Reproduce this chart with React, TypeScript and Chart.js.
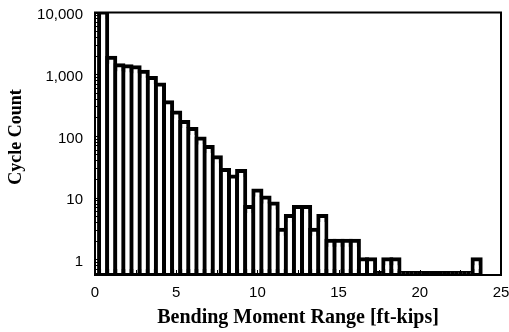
import React, { useEffect, useRef } from 'react';
import { Chart, registerables } from 'chart.js';

Chart.register(...registerables);

// Bin centres of the histogram [ft-kips]
const BIN_CENTERS = [
  0.5, 1.0, 1.5, 2.0, 2.5, 3.0, 3.5, 4.0, 4.5, 5.0,
  5.5, 6.0, 6.5, 7.0, 7.5, 8.0, 8.5, 9.0, 9.5, 10.0,
  10.5, 11.0, 11.5, 12.0, 12.5, 13.0, 13.5, 14.0, 14.5, 15.0,
  15.5, 16.0, 16.5, 17.0, 17.5, 18.0, 18.5, 19.0, 19.5, 20.0,
  20.5, 21.0, 21.5, 22.0, 22.5, 23.0, 23.5,
];

// Cycle counts per bin
const CYCLE_COUNTS = [
  10000, 1850, 1400, 1350, 1300, 1100, 870, 680, 350, 240,
  168, 129, 91, 66, 45, 28, 22, 27, 7, 13,
  10, 8, 3, 5, 7, 7, 3, 5, 2, 2,
  2, 2, 1, 1, 0, 1, 1, 0, 0, 0,
  0, 0, 0, 0, 0, 0, 1,
];

const Y_MIN = 0.555;
const Y_MAX = 10000;
const Y_TICKS = [1, 10, 100, 1000, 10000];
const X_LABELS = [0, 5, 10, 15, 20, 25];

const SANS = "'Liberation Sans', Arial, sans-serif";
const SERIF = "'Liberation Serif', 'Times New Roman', serif";

const frameAndTicks = {
  id: 'frameAndTicks',
  afterDatasetsDraw(chart: any) {
    const { ctx, chartArea, scales } = chart;
    const { left, right, top, bottom } = chartArea;
    const x = scales.x;
    const y = scales.y;
    ctx.save();
    ctx.strokeStyle = '#000';
    ctx.lineWidth = 1;
    ctx.beginPath();
    for (const t of x.ticks) {
      const px = Math.round(x.getPixelForValue(t.value)) + 0.5;
      ctx.moveTo(px, bottom);
      ctx.lineTo(px, bottom - 5);
    }
    for (let e = -1; e <= 4; e++) {
      for (let m = 1; m <= 9; m++) {
        const v = m * Math.pow(10, e);
        if (v < y.min || v > y.max) continue;
        const py = Math.round(y.getPixelForValue(v)) + 0.5;
        ctx.moveTo(left, py);
        ctx.lineTo(left + 6, py);
      }
    }
    ctx.stroke();
    ctx.lineWidth = 2;
    ctx.strokeRect(left, top, right - left, bottom - top);
    ctx.restore();
  },
};

const noAutoPadding = (s: any) => {
  s.paddingTop = 0;
  s.paddingBottom = 0;
  s.paddingLeft = 0;
  s.paddingRight = 0;
};

export default function App() {
  const ref = useRef<HTMLCanvasElement | null>(null);

  useEffect(() => {
    if (!ref.current) return;
    const chart = new Chart(ref.current, {
      type: 'bar',
      data: {
        datasets: [
          {
            data: BIN_CENTERS.map((c, i) => ({
              x: c,
              y: [Y_MIN, CYCLE_COUNTS[i] > 0 ? CYCLE_COUNTS[i] : Y_MIN],
            })) as any,
            backgroundColor: (c: any) => (CYCLE_COUNTS[c.dataIndex] > 0 ? '#ffffff' : '#000000'),
            borderColor: '#000000',
            borderWidth: 4,
            borderSkipped: false,
            inflateAmount: 2,
            minBarLength: 2,
            barPercentage: 1,
            categoryPercentage: 1,
            clip: 0,
          } as any,
        ],
      },
      options: {
        animation: false,
        responsive: true,
        maintainAspectRatio: false,
        events: [],
        layout: { autoPadding: false, padding: { left: 0, right: 8, top: 12.5, bottom: 0 } } as any,
        plugins: { legend: { display: false }, tooltip: { enabled: false } },
        scales: {
          x: {
            type: 'linear',
            min: 0,
            max: 25,
            offset: false,
            afterFit: (s: any) => { s.height = 57; noAutoPadding(s); },
            grid: { display: false, drawTicks: false, offset: false },
            border: { display: false },
            ticks: {
              stepSize: 2.5,
              autoSkip: false,
              maxRotation: 0,
              padding: 9,
              color: '#000',
              font: { family: SANS, size: 15 },
              callback: (v: any) => (X_LABELS.includes(Number(v)) ? String(v) : ''),
            },
            title: {
              display: true,
              text: 'Bending Moment Range [ft-kips]',
              color: '#000',
              font: { family: SERIF, size: 20, weight: 'bold' },
              padding: { top: 0, bottom: 2 },
            },
          },
          y: {
            type: 'logarithmic',
            min: Y_MIN,
            max: Y_MAX,
            afterBuildTicks: (s: any) => { s.ticks = Y_TICKS.map((v) => ({ value: v })); },
            afterFit: (s: any) => { s.width = 95; noAutoPadding(s); },
            grid: { display: false, drawTicks: false },
            border: { display: false },
            ticks: {
              padding: 12,
              labelOffset: 2.5,
              color: '#000',
              font: { family: SANS, size: 15 },
              callback: (v: any) => Number(v).toLocaleString('en-US'),
            },
            title: {
              display: true,
              text: '   Cycle Count',
              color: '#000',
              font: { family: SERIF, size: 18, weight: 'bold' },
              padding: { top: 6, bottom: 0 },
            },
          },
        },
      } as any,
      plugins: [frameAndTicks],
    });
    return () => chart.destroy();
  }, []);

  return (
    <div style={{ position: 'fixed', left: 0, top: 0, width: 509, height: 332, background: '#fff' }}>
      <canvas ref={ref} />
    </div>
  );
}
